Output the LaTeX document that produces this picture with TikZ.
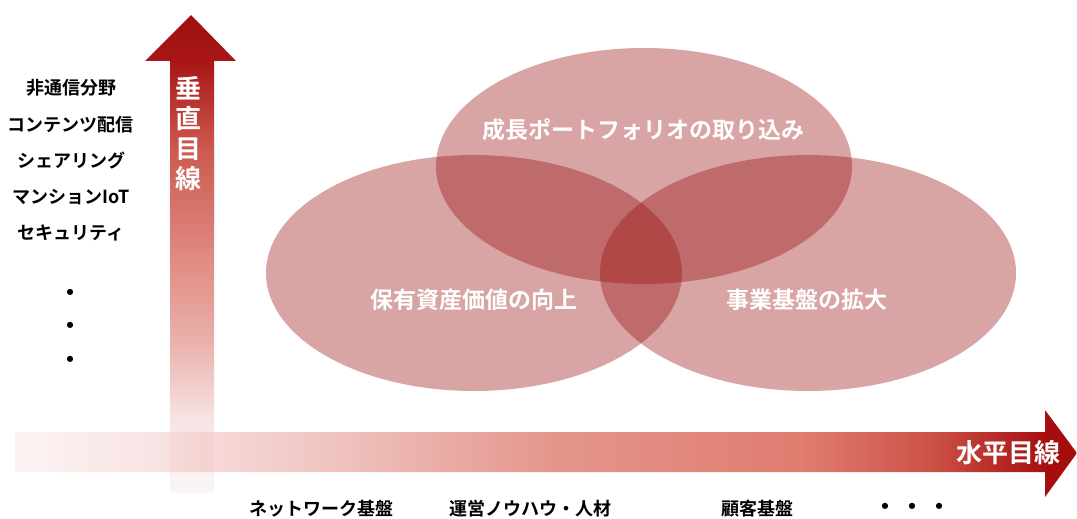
\documentclass[tikz,border=0pt]{standalone}
\usepackage{fontspec}
\newfontfamily\jp{Noto Sans CJK JP}[BoldFont={Noto Sans CJK JP Bold}]
\usetikzlibrary{shapes.geometric}
\definecolor{ellc}{RGB}{152,15,15}
\definecolor{a0}{RGB}{252,246,246}
\definecolor{a1}{RGB}{246,226,226}
\definecolor{a2}{RGB}{234,176,170}
\definecolor{a3}{RGB}{224,140,132}
\definecolor{a4}{RGB}{204,90,80}
\definecolor{a5}{RGB}{168,22,22}
\definecolor{a6}{RGB}{160,16,16}
\definecolor{h0}{RGB}{253,243,243}
\definecolor{h1}{RGB}{248,228,228}
\definecolor{h2}{RGB}{238,192,188}
\definecolor{h3}{RGB}{228,150,140}
\definecolor{h4}{RGB}{224,124,112}
\definecolor{h5}{RGB}{204,82,72}
\definecolor{h6}{RGB}{166,14,14}
\pgfdeclareverticalshading{vshade}{100bp}{color(0bp)=(a0); color(25bp)=(a0); color(33bp)=(a1); color(41bp)=(a2); color(49.4bp)=(a3); color(60.9bp)=(a4); color(70.2bp)=(a5); color(75bp)=(a6); color(100bp)=(a6)}
\pgfdeclarehorizontalshading{hshade}{100bp}{color(0bp)=(h0); color(25bp)=(h0); color(31.4bp)=(h1); color(40.8bp)=(h2); color(50.2bp)=(h3); color(62bp)=(h4); color(68.1bp)=(h5); color(73.6bp)=(h6); color(75bp)=(h6); color(100bp)=(h6)}
\tikzset{
  venn/.style={ellipse, fill=ellc, fill opacity=0.38, minimum width=416pt, minimum height=236pt, inner sep=0pt},
  vlabel/.style={text=white, font=\jp\bfseries\fontsize{23}{26}\selectfont, inner sep=0pt},
  item/.style={text=black, font=\jp\bfseries\fontsize{18}{22}\selectfont, inner sep=0pt},
  dotitem/.style={text=black, font=\jp\bfseries\fontsize{24}{26}\selectfont, inner sep=0pt},
  axislabel/.style={text=white, font=\jp\bfseries\fontsize{26}{30}\selectfont, inner sep=0pt}
}
\begin{document}
\begin{tikzpicture}[x=1pt,y=-1pt]
\useasboundingbox (0,0) rectangle (1077,519);
% vertical arrow
\shade[shading=vshade] (170,493) -- (170,61) -- (145,61) -- (191,15) -- (236,61) -- (214,61) -- (214,493) -- cycle;
% horizontal arrow
\shade[shading=hshade] (15,432) -- (1045,432) -- (1045,410) -- (1077,453) -- (1045,497) -- (1045,472) -- (15,472) -- cycle;
% faint crossing of the two arrows
\fill[a2, fill opacity=0.15] (170,432) rectangle (214,472);
% ellipses
\node[venn] (left) at (474,273) {};
\node[venn] (top) at (644,166) {};
\node[venn] (right) at (808,273) {};
\node[vlabel] (ltop) at (643,130) {成長ポートフォリオの取り込み};
\node[vlabel] (lleft) at (474,300) {保有資産価値の向上};
\node[vlabel] (lright) at (807,300) {事業基盤の拡大};
% axis labels
\node[axislabel, align=center] (vlab) at (188,134) {垂\\直\\目\\線};
\node[axislabel] (hlab) at (1008,453) {水平目線};
% left list
\node[item] (i1) at (72,88) {非通信分野};
\node[item] (i2) at (71,125) {コンテンツ配信};
\node[item] (i3) at (71,161) {シェアリング};
\node[item] (i4) at (71,197) {マンションIoT};
\node[item] (i5) at (71,233) {セキュリティ};
\node[dotitem] (d1) at (70,295) {・};
\node[dotitem] (d2) at (70,328) {・};
\node[dotitem] (d3) at (70,362) {・};
% bottom list
\node[item] (b1) at (321,509) {ネットワーク基盤};
\node[item] (b2) at (530,509) {運営ノウハウ・人材};
\node[item] (b3) at (757,509) {顧客基盤};
\node[dotitem] (b4) at (912,509) {・\hspace{3pt}・\hspace{3pt}・};
\end{tikzpicture}
\end{document}
